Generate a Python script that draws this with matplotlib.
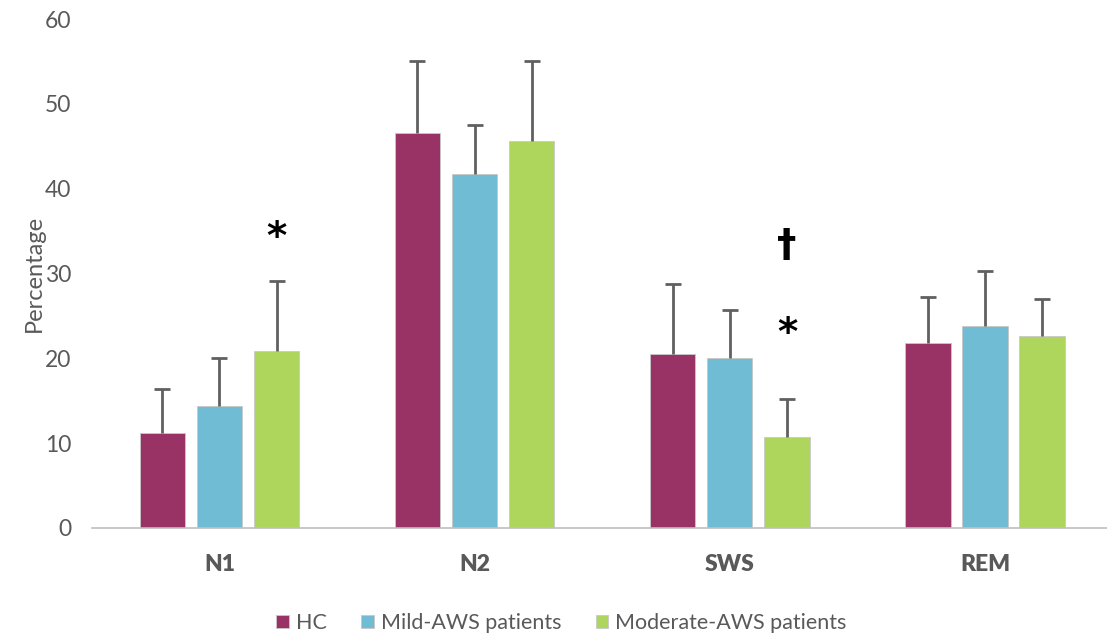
import numpy as np
import matplotlib.pyplot as plt

plt.rcParams['font.family'] = ['Lato', 'DejaVu Sans']

# ---- data ----
stages = ['N1', 'N2', 'SWS', 'REM']
groups = ['HC', 'Mild-AWS patients', 'Moderate-AWS patients']
hc_mean = [11.2, 46.6, 20.5, 21.8]
hc_sd = [5.2, 8.4, 8.3, 5.4]
mild_mean = [14.4, 41.7, 20.0, 23.8]
mild_sd = [5.6, 5.8, 5.7, 6.5]
mod_mean = [20.9, 45.6, 10.7, 22.6]
mod_sd = [8.2, 9.4, 4.5, 4.4]
colors = ['#993366', '#70BCD4', '#AED65C']

# significance marks: (stage index, y value, symbol)
marks = [(0, 34.2, '*'), (2, 33.2, '\u2020'), (2, 22.9, '*')]

fig, ax = plt.subplots(figsize=(11.07, 6.36), dpi=100)
fig.subplots_adjust(left=0.083, right=1.005, bottom=0.170, top=0.970)

x = np.arange(len(stages))
w = 0.178
step = 0.224
means = [hc_mean, mild_mean, mod_mean]
sds = [hc_sd, mild_sd, mod_sd]
for i, (m, s, c, lab) in enumerate(zip(means, sds, colors, groups)):
    pos = x + (i - 1) * step
    m = np.array(m)
    s = np.array(s)
    ax.bar(pos, m, width=w, color=c, edgecolor='#C8C8C8', linewidth=0.6,
           label=lab, zorder=2)
    # only the upper half of the error bar, with a cap on top
    ax.errorbar(pos, m, yerr=[np.zeros(len(s)), s], fmt='none',
                ecolor='#606060', elinewidth=2, capsize=0, zorder=3)
    ax.plot(pos, m + s, ls='none', marker='_', markersize=12,
            markeredgewidth=2, color='#606060', zorder=3)

for k, yv, sym in marks:
    ax.text(x[k] + step, yv, sym, ha='center', va='center',
            fontsize=28, fontweight='bold',
            family=['DejaVu Sans'], color='black')

ax.set_xlim(-0.5, len(stages) - 0.5)
ax.set_ylim(0, 60)
ax.set_yticks(range(0, 61, 10))
ax.set_xticks(x)
ax.set_xticklabels(stages, fontsize=16.5, fontweight='heavy', color='#595959')
ax.tick_params(axis='y', length=0, labelsize=16.5, labelcolor='#595959', pad=15)
ax.tick_params(axis='x', length=0, pad=19)
ax.set_ylabel('Percentage', fontsize=17, color='#595959', labelpad=0)

for sp in ['top', 'right', 'left']:
    ax.spines[sp].set_visible(False)
ax.spines['bottom'].set_color('#BFBFBF')
ax.spines['bottom'].set_linewidth(1.2)

ax.legend(loc='lower center', bbox_to_anchor=(0.46, -0.245), ncol=3, frameon=False,
          fontsize=15.5, labelcolor='#595959', handlelength=0.6, handleheight=0.6,
          handletextpad=0.3, columnspacing=1.6)

plt.savefig('out.png', dpi=100)
